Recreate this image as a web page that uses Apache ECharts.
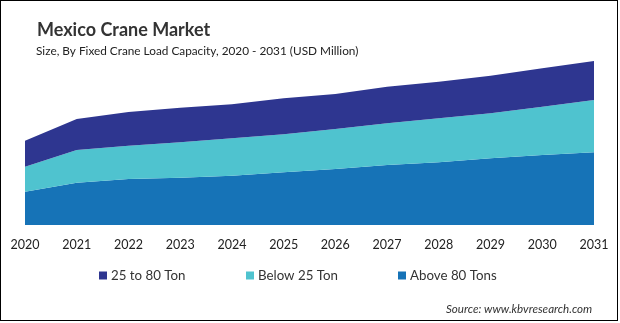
<!DOCTYPE html>
<html>
<head>
<meta charset="utf-8">
<script src="https://cdn.jsdelivr.net/npm/echarts@6/dist/echarts.min.js"></script>
<style>
html,body{margin:0;padding:0;background:#fff;}
#frame{position:absolute;left:0;top:0;width:616px;height:319px;border:1.5px solid #000;}
#chart{position:absolute;left:0;top:0;width:620px;height:323px;}
</style>
</head>
<body>
<div id="frame"></div>
<div id="chart"></div>
<script>
const years = ['2020','2021','2022','2023','2024','2025','2026','2027','2028','2029','2030','2031'];
const above80Tons = [333, 423, 460, 473, 493, 527, 560, 600, 627, 667, 700, 727];
const below25Ton  = [250, 327, 333, 354, 374, 380, 400, 417, 440, 450, 483, 523];
const ton25to80   = [260, 310, 337, 346, 340, 360, 350, 366, 366, 376, 384, 390];
const seriesNames = ['25 to 80 Ton', 'Below 25 Ton', 'Above 80 Tons'];
const colors = {'25 to 80 Ton':'#2e3690', 'Below 25 Ton':'#4fc3cf', 'Above 80 Tons':'#1673b7'};

const chart = echarts.init(document.getElementById('chart'), null, {renderer:'canvas'});
const font = 'Lato, "Open Sans", sans-serif';
function mkSeries(name, data){
  return {name:name, type:'line', stack:'total', data:data, symbol:'none',
    lineStyle:{width:0}, areaStyle:{color:colors[name], opacity:1},
    itemStyle:{color:colors[name]}, emphasis:{disabled:true}};
}
function mkLegend(name, left){
  return {data:[name], left:left, top:264, itemWidth:8, itemHeight:8, itemGap:0,
    icon:'rect', textStyle:{fontFamily:font, fontSize:13.3, color:'#333', padding:[0,0,0,-1]}};
}
chart.setOption({
  animation:false,
  title:[
    {text:'Mexico Crane Market', left:32, top:16, textStyle:{fontFamily:font, fontWeight:'bold', fontSize:18, color:'#333'}},
    {text:'Size, By Fixed Crane Load Capacity, 2020 - 2031 (USD Million)', left:31, top:40, textStyle:{fontFamily:font, fontWeight:'normal', fontSize:11.8, color:'#222'}},
    {text:'Source: www.kbvresearch.com', left:441, top:298, textStyle:{fontFamily:font, fontStyle:'italic', fontWeight:'normal', fontSize:11.6, color:'#333'}}
  ],
  legend:[mkLegend('25 to 80 Ton', 94), mkLegend('Below 25 Ton', 241), mkLegend('Above 80 Tons', 393)],
  grid:{left:25, right:26, top:55, bottom:98},
  xAxis:{type:'category', data:years, boundaryGap:false,
    axisLine:{show:false}, axisTick:{show:false},
    axisLabel:{fontFamily:font, fontSize:12.5, color:'#222', margin:13, interval:0}},
  yAxis:{type:'value', min:0, max:1700, show:false, splitLine:{show:false}},
  series:[mkSeries('Above 80 Tons', above80Tons), mkSeries('Below 25 Ton', below25Ton), mkSeries('25 to 80 Ton', ton25to80)]
});
</script>
</body>
</html>
